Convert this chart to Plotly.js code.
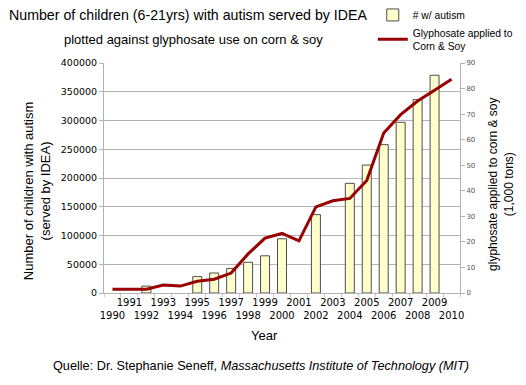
<!DOCTYPE html>
<html>
<head>
<meta charset="utf-8">
<script src="https://cdn.plot.ly/plotly-3.0.1.min.js"></script>
<style>html,body{margin:0;padding:0;background:#fff;}#chart{width:526px;height:385px;}</style>
</head>
<body>
<div id="chart"></div>
<script>
// Data
var barYears = [1992, 1995, 1996, 1997, 1998, 1999, 2000, 2002, 2004, 2005, 2006, 2007, 2008, 2009];
var autismCounts = [12000, 28500, 34800, 42700, 53400, 64700, 94300, 136300, 190700, 222500, 258000, 296900, 336300, 378700];
var lineYears = [1990, 1991, 1992, 1993, 1994, 1995, 1996, 1997, 1998, 1999, 2000, 2001, 2002, 2003, 2004, 2005, 2006, 2007, 2008, 2009, 2010];
var glyphosateTons = [1.5, 1.5, 1.5, 3.1, 2.7, 4.6, 5.4, 7.8, 15.3, 21.5, 23.3, 20.4, 33.7, 36.1, 37.0, 44.0, 62.6, 69.8, 75.1, 79.3, 83.6];
var yearTicks = [1990, 1991, 1992, 1993, 1994, 1995, 1996, 1997, 1998, 1999, 2000, 2001, 2002, 2003, 2004, 2005, 2006, 2007, 2008, 2009, 2010];
var yearTickText = yearTicks.map(function (y) { return (y % 2 === 1) ? String(y) : '<br>' + y; });

var baseFont = 'Liberation Sans, Arial, sans-serif';
var tickFont = 'DejaVu Sans, sans-serif';

var traces = [
  {
    type: 'bar', x: barYears, y: autismCounts, name: '# w/ autism', width: 0.53,
    marker: { color: '#ffffcc', line: { color: '#4d4d4d', width: 1 } },
    yaxis: 'y'
  },
  {
    type: 'scatter', mode: 'lines', x: lineYears, y: glyphosateTons,
    name: 'Glyphosate applied to<br>Corn & Soy',
    line: { color: '#990000', width: 3 },
    yaxis: 'y2'
  }
];

var layout = {
  width: 526, height: 385,
  margin: { l: 104, r: 66, t: 63, b: 92, autoexpand: false },
  paper_bgcolor: '#ffffff', plot_bgcolor: '#ffffff',
  font: { family: baseFont, color: '#000' },
  showlegend: true,
  legend: {
    x: 0.755, y: 1.272, xanchor: 'left', yanchor: 'top',
    font: { family: baseFont, size: 10.3, color: '#000' },
    bgcolor: 'rgba(0,0,0,0)', tracegroupgap: 0, itemwidth: 30
  },
  xaxis: {
    range: [1989.5, 2010.5], tickmode: 'array', tickvals: yearTicks, ticktext: yearTickText,
    tickangle: 0, showgrid: false, zeroline: false, showline: true, linecolor: '#b3b3b3',
    ticks: '', tickfont: { family: tickFont, size: 10, color: '#000' },
    minor: { tickmode: 'linear', tick0: 1989.5, dtick: 1, ticks: 'outside', ticklen: 3, tickcolor: '#c8c8c8', showgrid: false }
  },
  yaxis: {
    range: [0, 400000], tickmode: 'linear', tick0: 0, dtick: 50000,
    showgrid: true, gridcolor: '#b3b3b3', gridwidth: 1, zeroline: false,
    showline: true, linecolor: '#b3b3b3', ticks: 'outside', ticklen: 4, tickcolor: '#b3b3b3',
    tickfont: { family: tickFont, size: 9.5, color: '#000' }, tickformat: 'd'
  },
  yaxis2: {
    range: [0, 90], tickmode: 'linear', tick0: 0, dtick: 10, overlaying: 'y', side: 'right',
    showgrid: false, zeroline: false, showline: true, linecolor: '#b3b3b3',
    ticks: 'outside', ticklen: 4, tickcolor: '#b3b3b3',
    tickfont: { family: tickFont, size: 7, color: '#555' }
  },
  annotations: [
    { text: 'Number of children (6-21yrs) with autism served by IDEA', xref: 'paper', yref: 'paper',
      x: 0.236, y: 1.209, xanchor: 'center', yanchor: 'middle', showarrow: false,
      font: { family: baseFont, size: 14.2, color: '#000' } },
    { text: 'plotted against glyphosate use on corn & soy', xref: 'paper', yref: 'paper',
      x: 0.251, y: 1.1, xanchor: 'center', yanchor: 'middle', showarrow: false,
      font: { family: baseFont, size: 13, color: '#000' } },
    { text: 'Year', xref: 'paper', yref: 'paper', x: 0.452, y: -0.183,
      xanchor: 'center', yanchor: 'middle', showarrow: false,
      font: { family: baseFont, size: 13, color: '#000' } },
    { text: 'Number of children with autism<br>(served by IDEA)', xref: 'paper', yref: 'paper',
      x: -0.188, y: 0.443, xanchor: 'center', yanchor: 'middle', textangle: -90, showarrow: false,
      font: { family: baseFont, size: 13, color: '#000' } },
    { text: 'glyphosate applied to corn & soy<br>(1,000 tons)', xref: 'paper', yref: 'paper',
      x: 1.115, y: 0.474, xanchor: 'center', yanchor: 'middle', textangle: -90, showarrow: false,
      font: { family: baseFont, size: 12, color: '#000' } },
    { text: 'Quelle: Dr. Stephanie Seneff, <i>Massachusetts Institute of Technology (MIT)</i>', xref: 'paper', yref: 'paper',
      x: 0.441, y: -0.317, xanchor: 'center', yanchor: 'middle', showarrow: false,
      font: { family: baseFont, size: 12.7, color: '#000' } }
  ]
};

Plotly.newPlot('chart', traces, layout, { displayModeBar: false, staticPlot: true });
</script>
</body>
</html>
